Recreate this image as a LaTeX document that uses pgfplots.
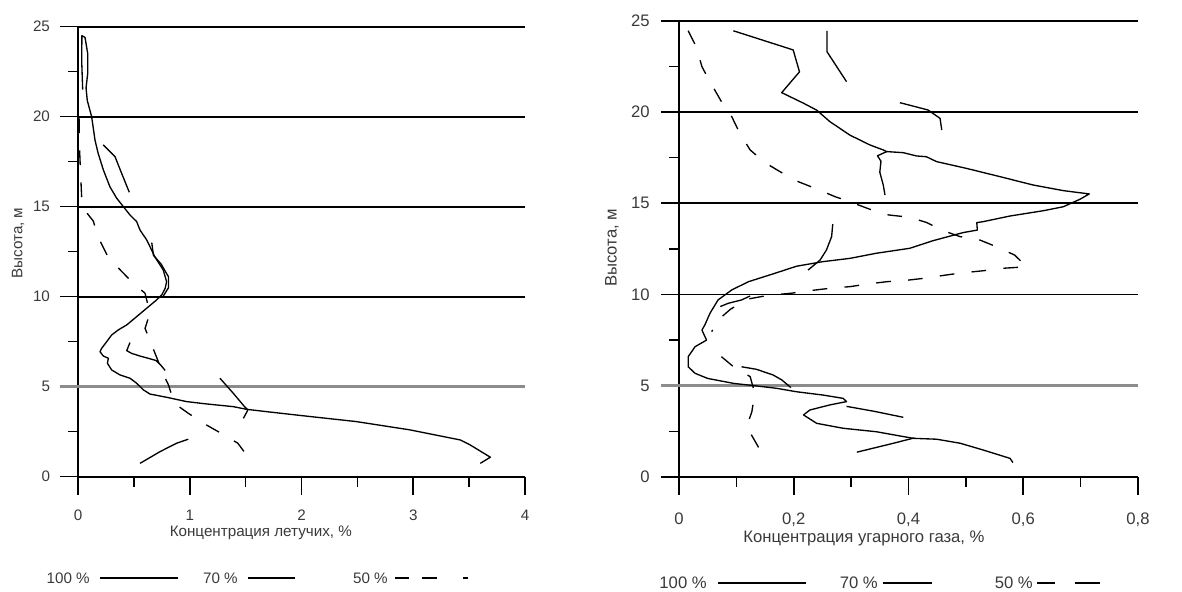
\documentclass[border=0pt]{standalone}
\usepackage{pgfplots}
\pgfplotsset{compat=1.18}
\usepackage{fontspec}
\setmainfont{Liberation Sans}
\definecolor{txt}{HTML}{3A3A3A}
\definecolor{gridfive}{HTML}{8C8C8C}
\begin{document}
\begin{tikzpicture}
\path[use as bounding box] (0pt,0pt) rectangle (886.5pt,444pt);
\pgfplotsset{
  chartbase/.style={
    scale only axis,
    axis x line*=bottom, axis y line*=left,
    axis line style={black, line width=1.3pt},
    ymin=0, ymax=25,
    ytick={0,10,15,20,25}, yticklabels={0,10,15,20,25},
    minor ytick={2.5,7.5,12.5,17.5,22.5},
    extra y ticks={5}, extra y tick labels={5},
    extra y tick style={grid=major, major tick style={draw=gridfive, line width=2.4pt}, major grid style={draw=gridfive, line width=2.4pt}},
    tick align=outside,
    major tick length=13.5pt, minor tick length=7.5pt,
    tick style={black, line width=1.2pt},
    ymajorgrids=true,
    major grid style={black, line width=1.3pt},
    tick label style={text=txt},
    label style={text=txt},
    clip=false,
  },
  s100/.style={black, line width=1pt, line join=round, no marks},
  s50/.style={black, line width=1pt, line join=round, dash pattern=on 11pt off 13pt, no marks},
}
% ---------------- left chart ----------------
\begin{axis}[chartbase,
  at={(58.5pt,86.5pt)}, anchor=south west,
  width=335.25pt, height=337.5pt,
  xmin=0, xmax=4,
  xtick={0,1,2,3,4}, xticklabels={0,1,2,3,4},
  minor xtick={0.5,1.5,2.5,3.5},
  font=\fontsize{11.4}{13.5}\selectfont,
  yticklabel style={xshift=-4pt},
  xticklabel style={yshift=-8pt},
  xlabel={Концентрация летучих, \%},
  ylabel={Высота, м},
  xlabel style={at={(axis description cs:0.409,-0.125)}, anchor=center},
  ylabel style={at={(axis description cs:-0.134,0.519)}, anchor=center},
]
% 100 %
\addplot[s100] coordinates {
(0.042,21.5) (0.033,23.1) (0.035,24.5) (0.063,24.4) (0.087,23.5) (0.087,22.4)
(0.072,21.6) (0.083,20.9) (0.122,20.0) (0.152,18.7) (0.18,17.97) (0.227,17.04)
(0.286,16.1) (0.346,15.47) (0.406,15.0) (0.465,14.54) (0.525,14.17) (0.555,13.7)
(0.615,13.15) (0.689,12.2) (0.763,11.48) (0.793,10.83) (0.78,10.47) (0.75,10.1)
(0.70,9.8) (0.615,9.36) (0.525,8.89) (0.436,8.43) (0.36,8.15) (0.301,7.87)
(0.257,7.5) (0.212,7.13) (0.197,6.94) (0.227,6.7) (0.272,6.58) (0.263,6.3)
(0.301,5.93) (0.376,5.65) (0.465,5.47) (0.525,5.19) (0.585,4.82) (0.644,4.59)
(0.793,4.41) (0.972,4.17) (1.15,4.04) (1.39,3.89) (1.51,3.74) (1.69,3.61)
(1.99,3.40) (2.49,3.06) (2.97,2.6) (3.42,2.04) (3.51,1.76) (3.69,1.08) (3.6,0.74)
};
% 70 %
\addplot[s100] coordinates {(0.226,18.43) (0.331,17.78) (0.39,16.86) (0.459,15.8)};
\addplot[s100] coordinates {(0.66,13.0) (0.675,12.3) (0.745,11.8) (0.81,11.1) (0.81,10.5) (0.76,10.0)};
\addplot[s100] coordinates {(0.465,7.45) (0.436,7.0) (0.48,6.85) (0.555,6.7) (0.644,6.55) (0.70,6.45) (0.74,6.2) (0.78,5.9)};
\addplot[s100] coordinates {(1.27,5.47) (1.39,4.63) (1.49,3.89) (1.52,3.7) (1.48,3.24)};
\addplot[s100] coordinates {(0.555,0.74) (0.734,1.39) (0.883,1.86) (0.987,2.08)};
% 50 %
\addplot[s50] coordinates {
(0.01,19.9) (0.012,18.5) (0.02,17.3) (0.033,15.5) (0.06,14.8) (0.137,14.2)
(0.18,13.3) (0.27,12.2) (0.36,11.6) (0.495,10.74) (0.6,10.19) (0.644,9.08)
(0.6,8.24) (0.68,7.0) (0.76,5.74) (0.81,5.09) (0.84,4.5) (0.883,3.98)
(0.987,3.52) (1.15,2.87) (1.28,2.41) (1.43,1.86) (1.52,1.11)
};
\end{axis}
% ---------------- right chart ----------------
\begin{axis}[chartbase,
  at={(509.25pt,86.25pt)}, anchor=south west,
  width=344.25pt, height=342.2pt,
  xmin=0, xmax=0.8,
  xtick={0,0.2,0.4,0.6,0.8}, xticklabels={0,{0,2},{0,4},{0,6},{0,8}},
  minor xtick={0.1,0.3,0.5,0.7},
  font=\fontsize{12.5}{15}\selectfont,
  yticklabel style={xshift=-5pt},
  xticklabel style={yshift=-10pt},
  xlabel={Концентрация угарного газа, \%},
  ylabel={Высота, м},
  xlabel style={at={(axis description cs:0.403,-0.134)}, anchor=center},
  ylabel style={at={(axis description cs:-0.146,0.502)}, anchor=center},
]
% 100 %
\addplot[s100] coordinates {
(0.0947,24.45) (0.199,23.4) (0.21,22.2) (0.179,21.06) (0.217,20.48) (0.24,20.1)
(0.263,19.47) (0.298,18.73) (0.333,18.19) (0.356,17.92) (0.362,17.83) (0.391,17.77)
(0.414,17.59) (0.431,17.55) (0.449,17.28) (0.501,16.91) (0.559,16.46) (0.617,16.0)
(0.67,15.69) (0.715,15.51) (0.699,15.22) (0.67,14.81) (0.635,14.59) (0.577,14.3)
(0.53,13.99) (0.519,13.94) (0.52,13.53) (0.495,13.39) (0.443,12.95) (0.402,12.53)
(0.344,12.26) (0.298,11.98) (0.251,11.8) (0.205,11.55) (0.167,11.16) (0.121,10.7)
(0.092,10.25) (0.068,9.7) (0.054,8.97) (0.045,8.33) (0.04,8.05) (0.048,7.5)
(0.028,7.14) (0.016,6.59) (0.016,6.04) (0.028,5.68) (0.05,5.4) (0.095,5.13)
(0.135,4.99) (0.17,4.86) (0.205,4.67) (0.251,4.49) (0.286,4.31) (0.292,4.13)
(0.263,3.95) (0.228,3.67) (0.217,3.4) (0.24,2.94) (0.286,2.67) (0.344,2.48)
(0.408,2.12) (0.449,2.07) (0.49,1.85) (0.53,1.48) (0.577,1.02) (0.582,0.79)
};
% 70 %
\addplot[s100] coordinates {(0.258,24.45) (0.258,23.3) (0.275,22.48) (0.292,21.66)};
\addplot[s100] coordinates {(0.385,20.51) (0.434,20.11) (0.455,19.65) (0.458,19.01)};
\addplot[s100] coordinates {(0.362,17.83) (0.346,17.6) (0.352,17.3) (0.35,16.7) (0.356,16.0) (0.359,15.45)};
\addplot[s100] coordinates {(0.268,13.86) (0.266,13.17) (0.257,12.44) (0.246,11.89) (0.225,11.34)};
\addplot[s100] coordinates {(0.072,9.34) (0.086,9.52) (0.109,9.7) (0.124,9.92)};
\addplot[s100] coordinates {(0.109,6.04) (0.135,5.9) (0.164,5.59) (0.179,5.32) (0.195,4.9)};
\addplot[s100] coordinates {(0.292,3.87) (0.34,3.6) (0.391,3.27)};
\addplot[s100] coordinates {(0.31,1.36) (0.37,1.82) (0.41,2.14)};
% 50 %
\addplot[s50] coordinates {
(0.016,24.45) (0.03,23.58) (0.04,22.48) (0.054,21.66) (0.074,20.56) (0.092,19.74)
(0.106,18.83) (0.124,17.92) (0.15,17.22) (0.176,16.73) (0.208,16.18) (0.237,15.82)
(0.272,15.36) (0.298,15.08) (0.336,14.63) (0.365,14.36) (0.402,14.23) (0.432,13.94)
(0.46,13.5) (0.49,13.17) (0.524,12.99) (0.553,12.62) (0.585,12.16) (0.606,11.52)
(0.562,11.43) (0.53,11.3) (0.495,11.19) (0.466,11.07) (0.428,10.89) (0.4,10.79)
(0.362,10.7) (0.33,10.58) (0.298,10.43) (0.263,10.34) (0.228,10.21) (0.196,10.07)
(0.155,9.95) (0.12,9.75) (0.09,9.2) (0.068,8.6) (0.057,7.96)
};
\addplot[s50] coordinates {
(0.074,6.59) (0.095,6.04) (0.124,5.5) (0.132,4.59) (0.127,3.58) (0.118,2.76)
(0.138,1.66) (0.144,0.84)
};
\end{axis}
% ---------------- legends ----------------
\begin{scope}[font=\fontsize{11.4}{13.5}\selectfont]
\node[anchor=east, text=txt, inner sep=0pt] at (67.5pt,10.5pt) {100 \%};
\draw[black, line width=1pt] (75pt,10.5pt) -- (133.5pt,10.5pt);
\node[anchor=east, text=txt, inner sep=0pt] at (178.5pt,10.5pt) {70 \%};
\draw[black, line width=1pt] (186pt,10.5pt) -- (221.25pt,10.5pt);
\node[anchor=east, text=txt, inner sep=0pt] at (291pt,10.5pt) {50 \%};
\draw[black, line width=1pt, dash pattern=on 10.5pt off 9.75pt on 11.25pt off 19.5pt on 3.75pt off 10pt] (296.25pt,10.5pt) -- (351pt,10.5pt);
\end{scope}
\begin{scope}[font=\fontsize{12.5}{15}\selectfont]
\node[anchor=east, text=txt, inner sep=0pt] at (530.25pt,6.75pt) {100 \%};
\draw[black, line width=1pt] (538.5pt,6.75pt) -- (604.5pt,6.75pt);
\node[anchor=east, text=txt, inner sep=0pt] at (658.5pt,6.75pt) {70 \%};
\draw[black, line width=1pt] (662.25pt,6.75pt) -- (699pt,6.75pt);
\node[anchor=east, text=txt, inner sep=0pt] at (774.75pt,6.75pt) {50 \%};
\draw[black, line width=1pt, dash pattern=on 13.5pt off 15pt on 19pt off 10pt] (777.75pt,6.75pt) -- (825pt,6.75pt);
\end{scope}
\end{tikzpicture}
\end{document}
